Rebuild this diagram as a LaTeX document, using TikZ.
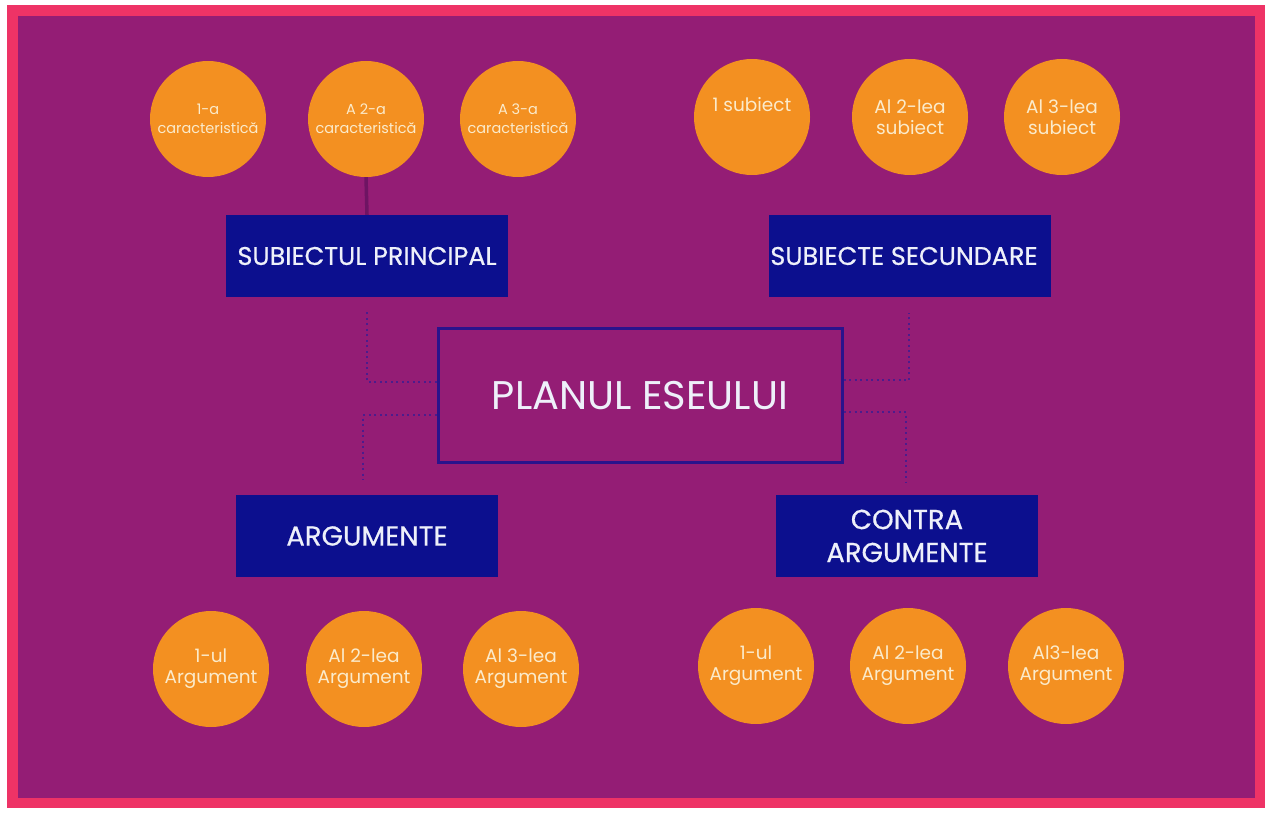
\documentclass[tikz,border=0pt]{standalone}
\usepackage{fontspec}
\setmainfont{Poppins}
\newfontfamily\boxfont{Poppins}[FakeBold=0.6]
\usetikzlibrary{calc}
\definecolor{bgpurple}{HTML}{941D75}
\definecolor{framepink}{HTML}{EE3366}
\definecolor{circorange}{HTML}{F39021}
\definecolor{boxnavy}{HTML}{0C0F8E}
\definecolor{centerline}{HTML}{2A138C}
\definecolor{dotcol}{HTML}{4C1C8C}
\definecolor{cream}{HTML}{FBEBCB}
\definecolor{boxtext}{HTML}{EEF0FA}
\definecolor{stem}{HTML}{6E1463}
\tikzset{
  circ/.style={circle, fill=circorange, minimum size=116pt, inner sep=0pt, align=center, text=cream},
  smalltxt/.style={font=\fontsize{14.5}{19}\selectfont},
  bigtxt/.style={font=\fontsize{18.5}{21}\selectfont},
  navybox/.style={rectangle, fill=boxnavy, minimum width=282pt, minimum height=82pt, inner sep=0pt, align=center, text=boxtext, font=\boxfont\fontsize{25.5}{33}\selectfont},
  argbox/.style={navybox, minimum width=262pt, font=\boxfont\fontsize{27.5}{33}\selectfont},
  centerbox/.style={rectangle, draw=centerline, line width=3pt, minimum width=404pt, minimum height=134pt, inner sep=0pt, text=boxtext, font=\fontsize{40}{44}\selectfont},
  dotline/.style={draw=dotcol, line width=2pt, dash pattern=on 2pt off 3.5pt},
  stemline/.style={draw=stem, line width=3.5pt}
}
\begin{document}
\begin{tikzpicture}[x=1pt,y=-1pt]
\useasboundingbox (0,0) rectangle (1275,813);
\fill[white] (0,0) rectangle (1275,813);
\fill[framepink] (7,5) rectangle (1265,808);
\fill[bgpurple] (18,16) rectangle (1255,798);

% top-left circles
\node[circ,smalltxt] (c1) at (208,119) {1-a\\caracteristică};
\node[circ,smalltxt] (c2) at (366,119) {A 2-a\\caracteristică};
\node[circ,smalltxt] (c3) at (518,119) {A 3-a\\caracteristică};
% top-right circles
\node[circ,bigtxt] (s1) at (752,117) {1 subiect\\\phantom{g}};
\node[circ,bigtxt] (s2) at (910,117) {Al 2-lea\\subiect};
\node[circ,bigtxt] (s3) at (1062,117) {Al 3-lea\\subiect};

% boxes
\node[navybox] (sp) at (367,256) {SUBIECTUL PRINCIPAL};
\node[navybox] (ss) at (910,256) {SUBIECTE SECUNDARE\hspace*{12pt}};
\node[argbox] (ar) at (367,536) {ARGUMENTE};
\node[argbox] (ca) at (907,536) {CONTRA\\ARGUMENTE};

% center
\node[centerbox, text depth=-4pt] (pe) at (640,395) {PLANUL ESEULUI};

% bottom circles
\node[circ,bigtxt] (a1) at (211,669) {1-ul\\Argument};
\node[circ,bigtxt] (a2) at (364,669) {Al 2-lea\\Argument};
\node[circ,bigtxt] (a3) at (521,669) {Al 3-lea\\Argument};
\node[circ,bigtxt] (b1) at (756,666) {1-ul\\Argument};
\node[circ,bigtxt] (b2) at (908,666) {Al 2-lea\\Argument};
\node[circ,bigtxt] (b3) at (1066,666) {Al3-lea\\Argument};

% stem
\draw[stemline] (c2.south) -- (sp.north);

% dotted connectors
\coordinate (e1) at (367,312);
\coordinate (e2) at (363,480);
\coordinate (e3) at (909,313);
\coordinate (e4) at (906,482);
\draw[dotline] ([yshift=13pt]pe.west) -| (e1);
\draw[dotline] ([yshift=-20pt]pe.west) -| (e2);
\draw[dotline] ([yshift=15pt]pe.east) -| (e3);
\draw[dotline] ([yshift=-17pt]pe.east) -| (e4);
\end{tikzpicture}
\end{document}
